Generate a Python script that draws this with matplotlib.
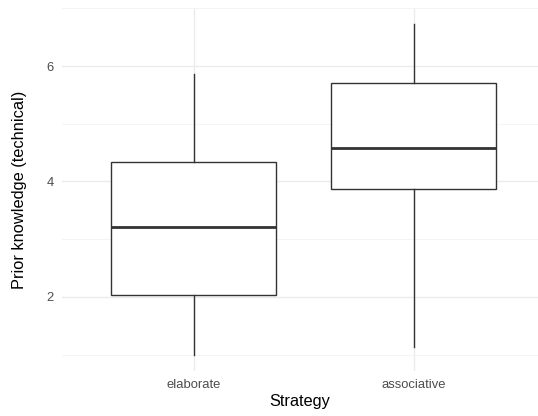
import matplotlib.pyplot as plt

plt.rcParams['font.family'] = ['Liberation Sans', 'DejaVu Sans']

# data
strategies = ["elaborate", "associative"]
whisker_low = [1.0, 1.13]
q1 = [2.03, 3.87]
median = [3.21, 4.58]
q3 = [4.33, 5.71]
whisker_high = [5.86, 6.72]

stats = []
for i in range(len(strategies)):
    stats.append(dict(label=strategies[i], whislo=whisker_low[i], q1=q1[i],
                      med=median[i], q3=q3[i], whishi=whisker_high[i], fliers=[]))

fig = plt.figure(figsize=(5.38, 4.16), dpi=100)
ax = fig.add_axes([62 / 538, 45 / 416, 476 / 538, 363 / 416])

line_col = "#333333"
ax.bxp(stats, positions=[1, 2], widths=0.75, showcaps=False, patch_artist=True,
       boxprops=dict(facecolor="white", edgecolor=line_col, linewidth=1.0),
       whiskerprops=dict(color=line_col, linewidth=1.0),
       medianprops=dict(color=line_col, linewidth=2.0),
       zorder=3)

ax.set_xlim(0.4, 0.4 + 476 / 219.7)
ax.set_ylim(0.714, 7.006)
ax.set_yticks([2, 4, 6])
ax.set_yticks([1, 3, 5, 7], minor=True)
ax.set_xticks([1, 2])
ax.set_xticklabels(strategies)

ax.grid(True, which="major", color="#EBEBEB", linewidth=1.0, zorder=0)
ax.grid(True, which="minor", axis="y", color="#F3F3F3", linewidth=0.6, zorder=0)
ax.set_axisbelow(True)
for s in ax.spines.values():
    s.set_visible(False)
ax.tick_params(which="both", length=0, labelsize=9.4, labelcolor="#4D4D4D")
ax.tick_params(axis="y", pad=6)
ax.tick_params(axis="x", pad=6)

ax.set_xlabel("Strategy", fontsize=11.8, color="black", labelpad=2)
ax.set_ylabel("Prior knowledge (technical)", fontsize=11.8, color="black", labelpad=14)

fig.savefig("out.png", dpi=100)
